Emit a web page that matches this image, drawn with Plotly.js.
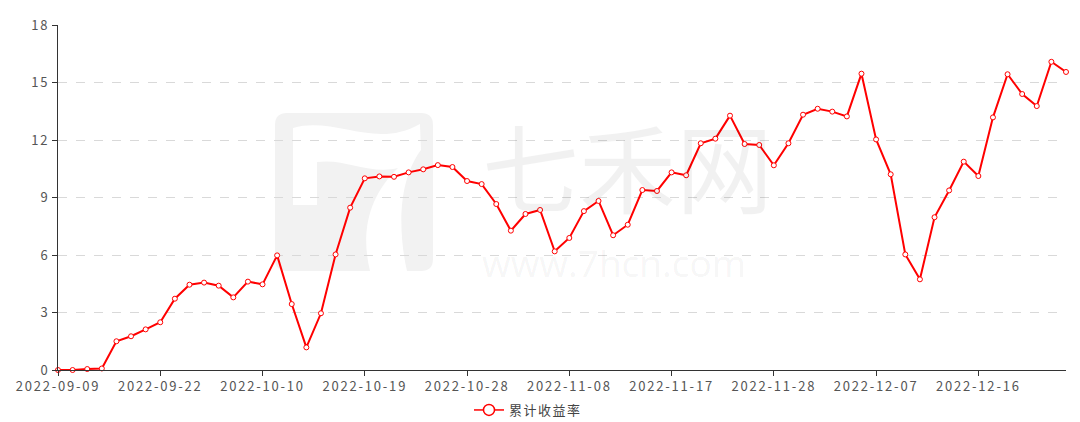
<!DOCTYPE html>
<html>
<head>
<meta charset="utf-8">
<script src="https://cdn.plot.ly/plotly-3.0.1.min.js"></script>
<style>
  html, body { margin: 0; padding: 0; background: #fff; }
  #chart { width: 1080px; height: 422px; }
  .xtick text, .ytick text { letter-spacing: 1.8px; }
  .legendtext { letter-spacing: 1.5px; }
</style>
</head>
<body>
<div id="chart"></div>
<script>
// trading days shown on the category axis
const dates = [
  '2022-09-09', '2022-09-13', '2022-09-14', '2022-09-15', '2022-09-16', '2022-09-19', '2022-09-20',
  '2022-09-22', '2022-09-23', '2022-09-26', '2022-09-27', '2022-09-28', '2022-09-29', '2022-09-30',
  '2022-10-10', '2022-10-11', '2022-10-12', '2022-10-13', '2022-10-14', '2022-10-17', '2022-10-18',
  '2022-10-19', '2022-10-20', '2022-10-21', '2022-10-24', '2022-10-25', '2022-10-26', '2022-10-27',
  '2022-10-28', '2022-10-31', '2022-11-01', '2022-11-02', '2022-11-03', '2022-11-04', '2022-11-07',
  '2022-11-08', '2022-11-09', '2022-11-10', '2022-11-11', '2022-11-14', '2022-11-15', '2022-11-16',
  '2022-11-17', '2022-11-18', '2022-11-21', '2022-11-22', '2022-11-23', '2022-11-24', '2022-11-25',
  '2022-11-28', '2022-11-29', '2022-11-30', '2022-12-01', '2022-12-02', '2022-12-05', '2022-12-06',
  '2022-12-07', '2022-12-08', '2022-12-09', '2022-12-12', '2022-12-13', '2022-12-14', '2022-12-15',
  '2022-12-16', '2022-12-19', '2022-12-20', '2022-12-21', '2022-12-22', '2022-12-23', '2022-12-26'
];

// 累计收益率 (%)
const returns = [
  0.00, 0.00, 0.05, 0.08, 1.50, 1.76, 2.12,
  2.49, 3.72, 4.45, 4.56, 4.40, 3.79, 4.61,
  4.47, 5.98, 3.44, 1.18, 2.96, 6.03, 8.47,
  10.00, 10.10, 10.08, 10.31, 10.47, 10.69, 10.59,
  9.86, 9.70, 8.66, 7.27, 8.14, 8.35, 6.19,
  6.89, 8.29, 8.82, 7.03, 7.58, 9.39, 9.34,
  10.31, 10.16, 11.83, 12.07, 13.27, 11.79, 11.74,
  10.68, 11.83, 13.32, 13.63, 13.48, 13.23, 15.46,
  12.03, 10.21, 6.03, 4.73, 7.97, 9.37, 10.87,
  10.12, 13.18, 15.43, 14.40, 13.77, 16.08, 15.55
];

const seriesName = '累计收益率';
const tickDates = dates.filter((d, i) => i % 7 === 0);

const FONT = '"Noto Sans CJK SC", "Noto Sans", sans-serif';
const RED = '#ff0000';

// plot area in pixels (for placing the watermark)
const M = { l: 58, r: 14, t: 25, b: 52 };
const W = 1080, H = 422;
const px = x => (x - M.l) / (W - M.l - M.r);
const py = y => (H - M.b - y) / (H - M.t - M.b);
const P = (x, y) => `${px(x).toFixed(4)},${py(y).toFixed(4)}`;

const logoBox = [
  'M', P(287, 113), 'L', P(421, 113), 'Q', P(433, 113), P(433, 125),
  'L', P(433, 259), 'Q', P(433, 271), P(421, 271),
  'L', P(287, 271), 'Q', P(275, 271), P(275, 259),
  'L', P(275, 125), 'Q', P(275, 113), P(287, 113), 'Z'
].join(' ');

const logoSeven = [
  'M', P(293, 128),
  'C', P(335, 116), P(375, 150), P(420, 124),
  'L', P(421, 150),
  'C', P(395, 185), P(400, 240), P(407, 271),
  'L', P(370, 271),
  'C', P(360, 230), P(370, 195), P(398, 168),
  'C', P(370, 175), P(345, 158), P(317, 162),
  'L', P(317, 205), 'L', P(293, 205), 'Z'
].join(' ');

const traces = [
  {
    x: dates,
    y: returns,
    type: 'scatter',
    mode: 'lines+markers',
    name: seriesName,
    showlegend: false,
    cliponaxis: false,
    line: { color: RED, width: 2 },
    marker: { color: '#fff', size: 5, line: { color: RED, width: 1 } },
    hovertemplate: '%{x}<br>' + seriesName + ': %{y:.2f}<extra></extra>'
  },
  {
    // legend entry only (larger symbol as in the original)
    x: [null],
    y: [null],
    type: 'scatter',
    mode: 'lines+markers',
    name: seriesName,
    showlegend: true,
    line: { color: RED, width: 1.5 },
    marker: { color: '#fff', size: 11, line: { color: RED, width: 1.5 } },
    hoverinfo: 'skip'
  }
];

const layout = {
  width: W,
  height: H,
  margin: M,
  paper_bgcolor: '#fff',
  plot_bgcolor: '#fff',
  font: { family: FONT, size: 13, color: '#555' },
  xaxis: {
    type: 'category',
    range: [0, dates.length - 1],
    tickmode: 'array',
    tickvals: tickDates,
    ticktext: tickDates,
    showgrid: false,
    showline: true,
    linecolor: '#333',
    linewidth: 1,
    ticks: 'outside',
    ticklen: 5,
    tickcolor: '#333',
    ticklabelstandoff: -1,
    tickfont: { family: FONT, size: 13, color: '#555' },
    zeroline: false,
    fixedrange: true
  },
  yaxis: {
    range: [0, 18],
    tickmode: 'linear',
    tick0: 0,
    dtick: 3,
    showgrid: true,
    gridcolor: '#d9d9d9',
    griddash: 'dash',
    gridwidth: 1,
    showline: true,
    linecolor: '#333',
    linewidth: 1,
    ticks: 'outside',
    ticklen: 5,
    tickcolor: '#333',
    tickfont: { family: FONT, size: 13, color: '#555' },
    zeroline: false,
    fixedrange: true
  },
  showlegend: true,
  legend: {
    orientation: 'h',
    xref: 'container',
    yref: 'container',
    x: 469 / W,
    xanchor: 'left',
    y: (H - 410) / H,
    yanchor: 'middle',
    font: { family: FONT, size: 13, color: '#444' },
    bgcolor: 'rgba(0,0,0,0)'
  },
  shapes: [
    { type: 'path', xref: 'paper', yref: 'paper', path: logoBox,
      fillcolor: '#f2f2f2', line: { width: 0 }, layer: 'below' },
    { type: 'path', xref: 'paper', yref: 'paper', path: logoSeven,
      fillcolor: '#ffffff', line: { width: 0 }, layer: 'below' }
  ],
  annotations: [
    { xref: 'paper', yref: 'paper', x: px(627), y: py(163), text: '七禾网',
      showarrow: false, xanchor: 'center', yanchor: 'middle',
      font: { family: FONT, size: 97, color: 'rgba(0,0,0,0.055)' } },
    { xref: 'paper', yref: 'paper', x: px(614), y: py(262), text: 'www.7hcn.com',
      showarrow: false, xanchor: 'center', yanchor: 'middle',
      font: { family: '"Open Sans", "Noto Sans", sans-serif', size: 37, color: 'rgba(0,0,0,0.055)' } }
  ],
  hovermode: 'closest'
};

Plotly.newPlot('chart', traces, layout, { displayModeBar: false, responsive: false });
</script>
</body>
</html>
